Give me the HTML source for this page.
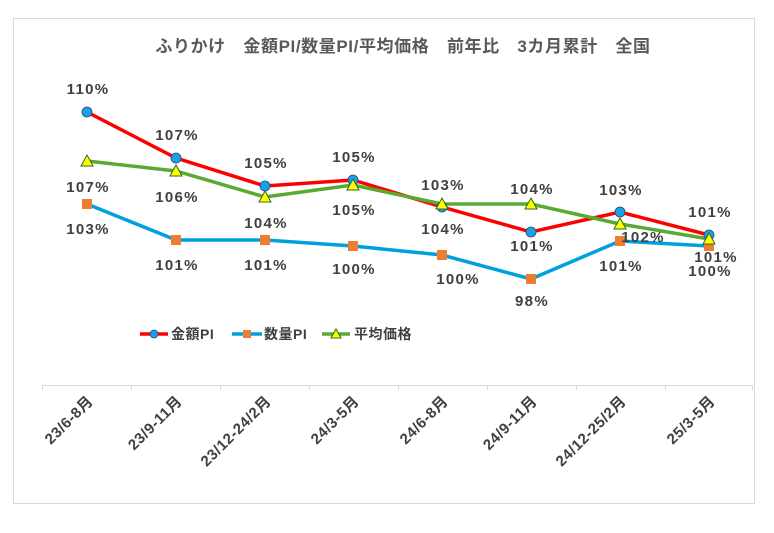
<!DOCTYPE html>
<html><head><meta charset="utf-8"><style>
body{margin:0;background:#fff;}
svg text{font-family:"Liberation Sans","Noto Sans CJK JP",sans-serif;font-weight:bold;fill:#404040;}
</style></head><body>
<svg width="774" height="528" xmlns="http://www.w3.org/2000/svg">
<rect x="13.5" y="18.5" width="741" height="485" fill="#fff" stroke="#d9d9d9"/>
<text x="403" y="52" font-size="17" text-anchor="middle" letter-spacing="0.6" style="fill:#595959">ふりかけ　金額PI/数量PI/平均価格　前年比　3カ月累計　全国</text>
<line x1="42" y1="385.5" x2="752" y2="385.5" stroke="#d9d9d9"/>
<g stroke="#d9d9d9">
<line x1="42.5" y1="385" x2="42.5" y2="390"/><line x1="131.5" y1="385" x2="131.5" y2="390"/><line x1="220.5" y1="385" x2="220.5" y2="390"/><line x1="309.5" y1="385" x2="309.5" y2="390"/><line x1="398.5" y1="385" x2="398.5" y2="390"/><line x1="487.5" y1="385" x2="487.5" y2="390"/><line x1="576.5" y1="385" x2="576.5" y2="390"/><line x1="665.5" y1="385" x2="665.5" y2="390"/><line x1="752.5" y1="385" x2="752.5" y2="390"/>
</g>
<polyline fill="none" stroke="#00a0e0" stroke-width="3.5" points="87,204 176,240 265,240 353,246 442,255 531,279 620,241 709,246"/>
<polyline fill="none" stroke="#ff0000" stroke-width="3.5" points="87,112 176,158 265,186 353,180 442,207 531,232 620,212 709,235"/>
<polyline fill="none" stroke="#5aaa32" stroke-width="3.5" points="87,161 176,171 265,197 353,185 442,204 531,204 620,224 709,239"/>
<g fill="#ed7d31">
<rect x="82" y="199" width="10" height="10"/><rect x="171" y="235" width="10" height="10"/><rect x="260" y="235" width="10" height="10"/><rect x="348" y="241" width="10" height="10"/><rect x="437" y="250" width="10" height="10"/><rect x="526" y="274" width="10" height="10"/><rect x="615" y="236" width="10" height="10"/><rect x="704" y="241" width="10" height="10"/>
</g>
<g fill="#1ba1e2" stroke="#1f4e79" stroke-width="0.8">
<circle cx="87" cy="112" r="5"/><circle cx="176" cy="158" r="5"/><circle cx="265" cy="186" r="5"/><circle cx="353" cy="180" r="5"/><circle cx="442" cy="207" r="5"/><circle cx="531" cy="232" r="5"/><circle cx="620" cy="212" r="5"/><circle cx="709" cy="235" r="5"/>
</g>
<g fill="#ffff00" stroke="#2e6b1a" stroke-width="1">
<polygon points="87,155 93,166 81,166"/><polygon points="176,165 182,176 170,176"/><polygon points="265,191 271,202 259,202"/><polygon points="353,179 359,190 347,190"/><polygon points="442,198 448,209 436,209"/><polygon points="531,198 537,209 525,209"/><polygon points="620,218 626,229 614,229"/><polygon points="709,233 715,244 703,244"/>
</g>
<g font-size="15" text-anchor="middle" letter-spacing="1.3">
<text x="88" y="94">110%</text><text x="177" y="140">107%</text><text x="266" y="168">105%</text><text x="354" y="162">105%</text><text x="443" y="234">104%</text><text x="532" y="251">101%</text><text x="621" y="195">103%</text><text x="710" y="217">101%</text>
<text x="88" y="192">107%</text><text x="177" y="202">106%</text><text x="266" y="228">104%</text><text x="354" y="215">105%</text><text x="443" y="190">103%</text><text x="532" y="194">104%</text><text x="643" y="242">102%</text><text x="710" y="276">100%</text>
<text x="88" y="234">103%</text><text x="177" y="270">101%</text><text x="266" y="270">101%</text><text x="354" y="274">100%</text><text x="458" y="284">100%</text><text x="532" y="306">98%</text><text x="621" y="271">101%</text><text x="716" y="262">101%</text>
</g>
<line x1="140" y1="334" x2="168" y2="334" stroke="#ff0000" stroke-width="3.5"/><circle cx="154" cy="334" r="4" fill="#1ba1e2" stroke="#1f4e79" stroke-width="0.8"/>
<text x="171" y="339" font-size="14" letter-spacing="0.5">金額PI</text>
<line x1="232" y1="334" x2="262" y2="334" stroke="#00a0e0" stroke-width="3.5"/><rect x="243" y="330" width="8" height="8" fill="#ed7d31"/>
<text x="264" y="339" font-size="14" letter-spacing="0.5">数量PI</text>
<line x1="322" y1="334" x2="350" y2="334" stroke="#5aaa32" stroke-width="3.5"/><polygon points="336,329 341,338 331,338" fill="#ffff00" stroke="#2e6b1a" stroke-width="1"/>
<text x="354" y="339" font-size="14" letter-spacing="0.5">平均価格</text>
<g font-size="15" text-anchor="end" letter-spacing="0.5">
<text transform="translate(94,402) rotate(-45)">23/6-8月</text>
<text transform="translate(183,402) rotate(-45)">23/9-11月</text>
<text transform="translate(272,402) rotate(-45)">23/12-24/2月</text>
<text transform="translate(360,402) rotate(-45)">24/3-5月</text>
<text transform="translate(449,402) rotate(-45)">24/6-8月</text>
<text transform="translate(538,402) rotate(-45)">24/9-11月</text>
<text transform="translate(627,402) rotate(-45)">24/12-25/2月</text>
<text transform="translate(716,402) rotate(-45)">25/3-5月</text>
</g>
</svg>
</body></html>
